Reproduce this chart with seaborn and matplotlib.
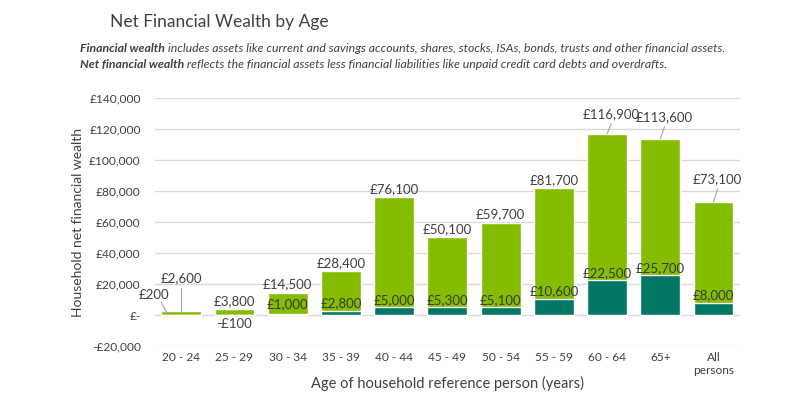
import matplotlib
matplotlib.use("Agg")
import matplotlib.pyplot as plt
import seaborn as sns
import pandas as pd

# data
ages = ["20 - 24", "25 - 29", "30 - 34", "35 - 39", "40 - 44", "45 - 49",
        "50 - 54", "55 - 59", "60 - 64", "65+", "All\npersons"]
mean_wealth = [2600, 3800, 14500, 28400, 76100, 50100, 59700, 81700, 116900, 113600, 73100]
median_wealth = [200, -100, 1000, 2800, 5000, 5300, 5100, 10600, 22500, 25700, 8000]
y_ticks = [-20000, 0, 20000, 40000, 60000, 80000, 100000, 120000, 140000]

df = pd.DataFrame({"age": ages, "mean": mean_wealth, "median": median_wealth})

sns.set_style("white")
plt.rcParams["font.family"] = ["Lato", "DejaVu Sans"]

light = "#84BD00"
dark = "#007864"
txt = "#404040"

fig = plt.figure(figsize=(7.89, 3.97), dpi=100)
ax = fig.add_axes([0.196, 0.128, 0.742, 0.625])

sns.barplot(data=df, x="age", y="mean", color=light, width=0.75, saturation=1, ax=ax, zorder=2)
sns.barplot(data=df, x="age", y="median", color=dark, width=0.75, saturation=1, ax=ax, zorder=3)

ax.set_ylim(-20000, 140000)
ax.set_yticks(y_ticks)
ax.set_yticklabels(["-£20,000" if v < 0 else ("£-" if v == 0 else f"£{v:,}") for v in y_ticks])
ax.yaxis.grid(True, color="#D9D9D9", linewidth=1)
ax.set_axisbelow(True)
for s in ax.spines.values():
    s.set_visible(False)
ax.tick_params(axis="y", length=0, labelsize=8.6, labelcolor=txt, pad=10)
ax.tick_params(axis="x", length=0, labelsize=8.6, labelcolor=txt, pad=4)
ax.set_xlim(-0.5, len(ages) - 0.5)
ax.set_xlabel("Age of household reference person (years)", fontsize=10.5, color=txt)
ax.xaxis.set_label_coords(0.5, -0.12)
ax.set_ylabel("Household net financial wealth", fontsize=10, color=txt)
ax.yaxis.set_label_coords(-0.12, 0.5)

def money(v):
    return f"-£{abs(v):,}" if v < 0 else f"£{v:,}"

# mean labels (some with leader lines)
leader = {0: 20000, 8: 126000, 9: 124000, 10: 84000}
for i, v in enumerate(mean_wealth):
    if i in leader:
        ly = leader[i]
        ax.plot([i, i + (0.08 if i != 0 else 0)], [v, ly - 2500], color="#A6A6A6", lw=0.8, zorder=4)
        ax.text(i + (0.08 if i != 0 else 0), ly, money(v), ha="center", va="bottom",
                fontsize=9.5, color=txt, zorder=5)
    else:
        ax.text(i, v + 1500, money(v), ha="center", va="bottom", fontsize=9.5, color=txt, zorder=5)

# median labels
for i, v in enumerate(median_wealth):
    if i == 0:
        ax.plot([-0.38, -0.25], [8500, 200], color="#A6A6A6", lw=0.8, zorder=4)
        ax.text(-0.52, 9000, money(v), ha="center", va="bottom", fontsize=9.5, color=txt, zorder=5)
    elif v < 0:
        ax.text(i, v - 1500, money(v), ha="center", va="top", fontsize=9.5, color=txt, zorder=5)
    else:
        ax.text(i, max(v, 2500) + 800, money(v), ha="center", va="bottom", fontsize=9.5,
                color="#3A3A3A", zorder=5)

fig.text(0.139, 0.945, "Net Financial Wealth by Age", fontsize=12.5, color="#404040", va="center")

# subtitle: bold italic lead-in followed by italic text
renderer = fig.canvas.get_renderer()
sub_lines = [
    ("Financial wealth", " includes assets like current and savings accounts, shares, stocks, ISAs, bonds, trusts and other financial assets."),
    ("Net financial wealth", " reflects the financial assets less financial liabilities like unpaid credit card debts and overdrafts."),
]
for (b, rest), y in zip(sub_lines, [0.878, 0.838]):
    t = fig.text(0.101, y, b, fontsize=8.8, style="italic", weight="bold", color=txt, va="center")
    bb = t.get_window_extent(renderer)
    fig.text(bb.x1 / fig.bbox.width, y, rest, fontsize=8.8, style="italic", color=txt, va="center")

fig.savefig("out.png", dpi=100)
